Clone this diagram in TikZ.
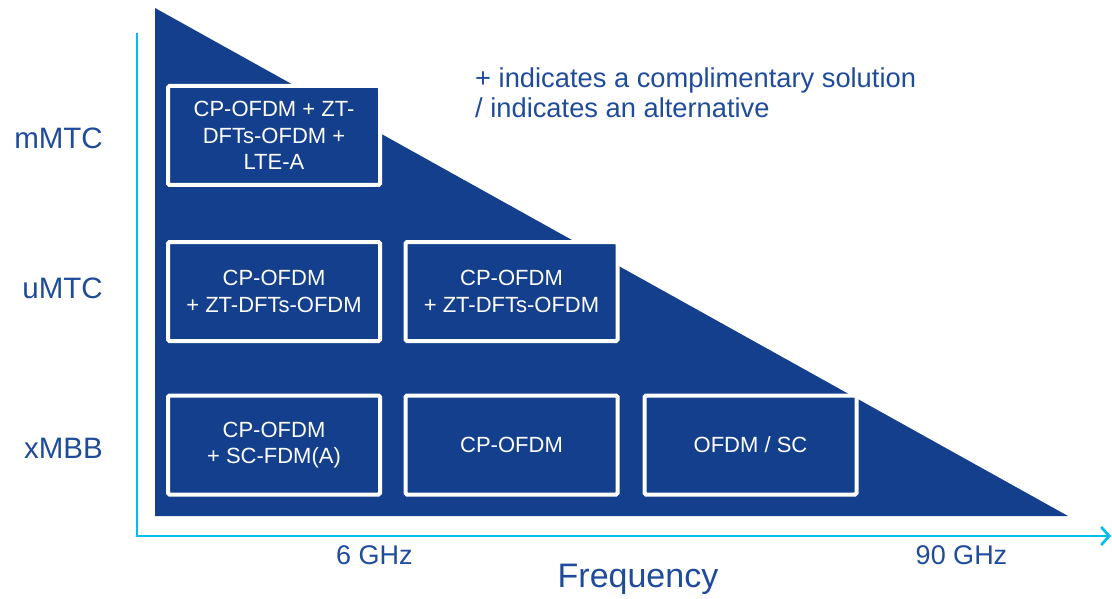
\documentclass[tikz,border=0pt]{standalone}
\usepackage{fontspec}
\setmainfont{Liberation Sans}
\usetikzlibrary{arrows.meta}
\definecolor{triblue}{HTML}{133F8C}
\definecolor{txtblue}{HTML}{1F4C9A}
\definecolor{axcyan}{HTML}{00BEF2}
\begin{document}
\begin{tikzpicture}[x=1pt,y=-1pt,
  cell/.style={draw=white, line width=4pt, fill=triblue, rounded corners=1.5pt,
    minimum width=212pt, minimum height=99pt, inner sep=0pt, align=center,
    text=white, font=\fontsize{22}{26.5}\selectfont},
  rowlbl/.style={anchor=base east, inner sep=0pt, text=txtblue, font=\fontsize{29.5}{32}\selectfont},
  ticklbl/.style={anchor=base, inner sep=0pt, text=txtblue, font=\fontsize{27}{30}\selectfont},
  axlbl/.style={anchor=base, inner sep=0pt, text=txtblue, font=\fontsize{34}{38}\selectfont},
  legendtxt/.style={anchor=base west, inner sep=0pt, text=txtblue, font=\fontsize{27.3}{30}\selectfont},
  axisline/.style={draw=axcyan, line width=2.7pt}
]
\useasboundingbox (0,0) rectangle (1112,599);
% triangle
\fill[triblue] (155,8) -- (155,516) -- (1068,516) -- cycle;
% axes
\coordinate (ytop) at (137,33);
\coordinate (origin) at (137,536);
\coordinate (xend) at (1111,536);
\draw[axisline, -{Straight Barb[length=8pt,width=18pt]}] (ytop) -- (origin) -- (xend);
% cells
\node[cell] (c11) at (274,135.5) {CP-OFDM + ZT-\\DFTs-OFDM +\\LTE-A};
\node[cell] (c21) at (274,291.5) {CP-OFDM\\+ ZT-DFTs-OFDM};
\node[cell] (c22) at (511.5,291.5) {CP-OFDM\\+ ZT-DFTs-OFDM};
\node[cell] (c31) at (274,445) {CP-OFDM\\+ SC-FDM(A)};
\node[cell] (c32) at (511.5,445) {CP-OFDM};
\node[cell] (c33) at (750.5,445) {OFDM / SC};
% row labels
\node[rowlbl] (mmtc) at (103,149) {mMTC};
\node[rowlbl] (umtc) at (103,298) {uMTC};
\node[rowlbl] (xmbb) at (103,458) {xMBB};
% axis labels
\node[ticklbl] (f6) at (374.5,564) {6 GHz};
\node[ticklbl] (f90) at (961.5,564) {90 GHz};
\node[axlbl] (freq) at (638,587) {Frequency};
% legend
\node[legendtxt] (leg1) at (475,88) {+ indicates a complimentary solution};
\node[legendtxt] (leg2) at (475,118) {/ indicates an alternative};
\end{tikzpicture}
\end{document}
